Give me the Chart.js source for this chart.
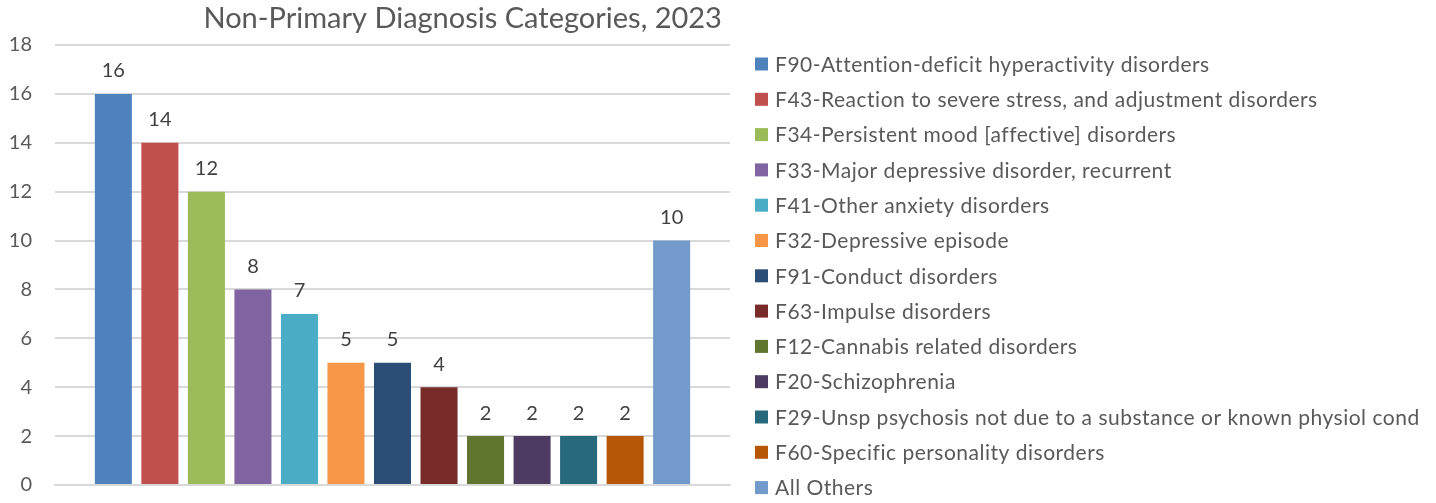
<!DOCTYPE html>
<html>
<head>
<meta charset="utf-8">
<script src="https://cdn.jsdelivr.net/npm/chart.js@4/dist/chart.umd.min.js"></script>
<style>
  html, body { margin: 0; padding: 0; background: #fff; }
  #wrap { width: 1436px; height: 503px; position: relative; }
</style>
</head>
<body>
<div id="wrap"><canvas id="chart"></canvas></div>
<script>
const chartTitle = 'Non-Primary Diagnosis Categories, 2023';
const categories = [
    'F90-Attention-deficit hyperactivity disorders',
    'F43-Reaction to severe stress, and adjustment disorders',
    'F34-Persistent mood [affective] disorders',
    'F33-Major depressive disorder, recurrent',
    'F41-Other anxiety disorders',
    'F32-Depressive episode',
    'F91-Conduct disorders',
    'F63-Impulse disorders',
    'F12-Cannabis related disorders',
    'F20-Schizophrenia',
    'F29-Unsp psychosis not due to a substance or known physiol cond',
    'F60-Specific personality disorders',
    'All Others'
];
const counts = [16, 14, 12, 8, 7, 5, 5, 4, 2, 2, 2, 2, 10];
const yTicks = [0, 2, 4, 6, 8, 10, 12, 14, 16, 18];

const colors = [
    '#4F81BD', '#C0504D', '#9BBB59', '#8064A2', '#4BACC6', '#F79646',
    '#2C4D75', '#772C2A', '#5F7530', '#4D3B62', '#276A7C', '#B65708', '#729ACA'
];

const FONT = 'Lato, Calibri, "Open Sans", sans-serif';

// value labels above each bar
const valueLabels = {
    id: 'valueLabels',
    afterDatasetsDraw(chart) {
        const ctx = chart.ctx;
        ctx.save();
        ctx.font = '20px ' + FONT;
        ctx.fillStyle = '#404040';
        ctx.textAlign = 'center';
        ctx.textBaseline = 'bottom';
        chart.data.datasets.forEach((ds, i) => {
            const bar = chart.getDatasetMeta(i).data[0];
            ctx.fillText(ds.data[0], bar.x, bar.y - 13);
        });
        ctx.restore();
    }
};

// title over the plot, a little right of centre like the original
const titleText = {
    id: 'titleText',
    afterDraw(chart) {
        const ctx = chart.ctx;
        const area = chart.chartArea;
        ctx.save();
        ctx.font = '29px ' + FONT;
        ctx.fillStyle = '#595959';
        ctx.textAlign = 'center';
        ctx.textBaseline = 'middle';
        ctx.fillText(chartTitle, area.left + (area.right - area.left) * 0.604, 19);
        ctx.restore();
    }
};

// legend column to the right of the plot, one row per series
const sideLegend = {
    id: 'sideLegend',
    afterDraw(chart) {
        const ctx = chart.ctx;
        const x0 = chart.chartArea.right + 25;
        const rowH = 35.3;
        const y0 = 64;
        ctx.save();
        ctx.font = '21px ' + FONT;
        ctx.letterSpacing = '0.5px';
        ctx.textAlign = 'left';
        ctx.textBaseline = 'middle';
        chart.data.datasets.forEach((ds, i) => {
            const y = y0 + i * rowH;
            ctx.fillStyle = ds.backgroundColor;
            ctx.fillRect(x0, y - 6.5, 13, 13);
            ctx.fillStyle = '#595959';
            ctx.fillText(ds.label, x0 + 20, y + 1);
        });
        ctx.restore();
    }
};

new Chart(document.getElementById('chart'), {
    type: 'bar',
    data: {
        labels: [''],
        datasets: categories.map((name, i) => ({
            label: name,
            data: [counts[i]],
            backgroundColor: colors[i],
            borderWidth: 0,
            categoryPercentage: 0.896,
            barPercentage: 0.796
        }))
    },
    options: {
        responsive: true,
        maintainAspectRatio: false,
        animation: false,
        layout: { padding: { top: 45, left: 10, right: 706, bottom: 18 } },
        plugins: {
            title: { display: false },
            tooltip: { enabled: false },
            legend: { display: false }
        },
        scales: {
            x: {
                ticks: { display: false },
                grid: { display: false, drawTicks: false },
                border: { display: true, color: '#D9D9D9', width: 2 }
            },
            y: {
                min: 0,
                max: 18,
                afterBuildTicks(scale) {
                    scale.ticks = yTicks.map(v => ({ value: v }));
                },
                afterFit(scale) {
                    scale.width = 45;
                    scale.paddingTop = 0;
                    scale.paddingBottom = 0;
                },
                ticks: {
                    padding: 23,
                    color: '#595959',
                    font: { size: 20, family: FONT }
                },
                grid: { color: '#D9D9D9', lineWidth: 2, drawTicks: false },
                border: { display: false }
            }
        }
    },
    plugins: [valueLabels, titleText, sideLegend]
});
</script>
</body>
</html>
